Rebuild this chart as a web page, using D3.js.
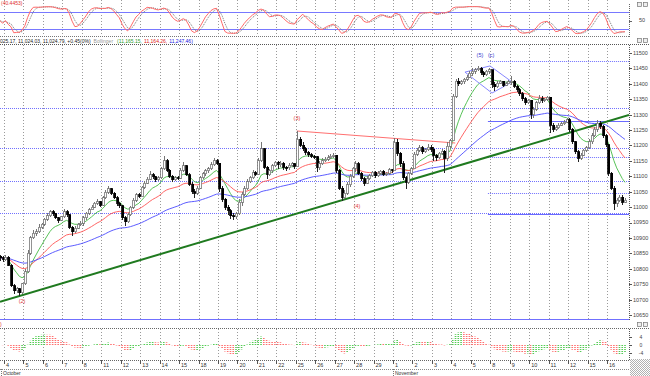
<!DOCTYPE html>
<html><head><meta charset="utf-8">
<script src="https://cdn.jsdelivr.net/npm/d3@7"></script>
<style>body{margin:0;background:#fff}svg{display:block;font-family:Arial,"Liberation Sans",sans-serif}</style>
</head><body><svg id="c" width="650" height="376"></svg>
<script>
// ---------------- DATA ----------------
const dayLabels = ["4","5","6","7","8","11","12","13","14","15","18","19","20","21","22","25","26","27","28","29","1","2","3","4","5","8","9","10","11","12","15","16"];
const monthLabels = ["October","November"];
const monthStartDays = [0, 20];
const barsPerDay = 7;
const firstBarSlot = 5;
const firstOpen = 10841;
const closes = [
10835,10829,
10838,10812,10745,10728,10735,10722,10751,
10790,10850,10900,10915,10920,10935,10944,
10960,10972,10985,10978,10965,10958,10968,
10985,10975,10935,10920,10932,10945,10948,
10965,10980,10992,11000,11012,11018,11006,
11030,11048,11060,11045,11030,11012,11005,
10965,10952,10975,11000,11022,11040,11035,
11065,11078,11090,11105,11098,11088,11096,
11125,11150,11120,11100,11088,11095,11094,
11120,11135,11105,11075,11050,11045,11062,
11095,11108,11118,11125,11138,11150,11143,
11060,11025,11000,10988,10972,10968,10978,
11015,11042,11060,11082,11095,11112,11107,
11150,11190,11130,11105,11118,11135,11146,
11138,11142,11130,11128,11136,11140,11132,
11220,11200,11190,11178,11170,11165,11164,
11128,11140,11150,11155,11160,11165,11169,
11120,11062,11030,11045,11072,11100,11126,
11140,11110,11092,11078,11092,11102,11113,
11102,11110,11116,11106,11110,11122,11118,
11210,11175,11140,11095,11080,11110,11124,
11172,11185,11192,11180,11186,11195,11188,
11168,11160,11175,11182,11158,11198,11215,
11360,11408,11400,11406,11415,11422,11434,
11440,11446,11451,11436,11430,11440,11445,
11398,11390,11402,11408,11396,11400,11406,
11408,11392,11380,11368,11352,11338,11346,
11300,11318,11338,11352,11346,11350,11357,
11265,11252,11258,11266,11270,11276,11283,
11252,11212,11180,11158,11168,11184,11193,
11212,11232,11252,11272,11262,11232,11202,
11110,11062,11012,11022,11032,11016,11023];
const highs = [
10845,10840,
10845,10842,10815,10750,10740,10738,10755,
10800,10860,10905,10925,10930,10945,10950,
10965,10980,10992,10990,10980,10968,10972,
10995,10990,10978,10940,10940,10950,10955,
10972,10985,10998,11008,11018,11025,11020,
11035,11055,11070,11062,11048,11035,11015,
11008,10970,10980,11005,11028,11045,11045,
11070,11085,11098,11118,11110,11100,11100,
11130,11165,11155,11125,11105,11100,11100,
11128,11145,11138,11110,11080,11058,11068,
11100,11115,11125,11130,11145,11158,11155,
11143,11070,11030,11008,10995,10980,10985,
11025,11050,11068,11090,11100,11120,11118,
11158,11210,11192,11135,11125,11140,11150,
11150,11150,11145,11135,11142,11146,11142,
11247,11228,11210,11195,11182,11175,11170,
11165,11150,11158,11162,11168,11172,11175,
11170,11125,11068,11055,11080,11108,11130,
11148,11145,11115,11098,11100,11108,11118,
11118,11118,11122,11120,11115,11128,11125,
11225,11220,11180,11148,11100,11115,11130,
11178,11192,11200,11198,11192,11205,11200,
11195,11172,11180,11188,11185,11210,11222,
11368,11415,11418,11412,11420,11428,11440,
11450,11452,11458,11455,11442,11446,11452,
11440,11405,11410,11412,11410,11405,11412,
11425,11412,11395,11385,11372,11356,11352,
11345,11325,11345,11365,11360,11355,11362,
11357,11272,11265,11272,11276,11282,11290,
11290,11258,11216,11185,11175,11190,11198,
11220,11240,11260,11283,11280,11268,11238,
11205,11115,11068,11030,11040,11038,11030];
const lows = [
10825,10822,
10825,10808,10740,10718,10722,10712,10718,
10748,10785,10845,10895,10905,10915,10930,
10938,10955,10968,10972,10960,10950,10955,
10965,10968,10930,10905,10915,10928,10938,
10940,10958,10975,10990,10998,11008,11000,
11005,11025,11042,11040,11025,11005,10998,
10958,10940,10948,10970,10995,11018,11028,
11035,11060,11075,11088,11090,11082,11085,
11090,11120,11115,11095,11080,11085,11088,
11090,11115,11100,11068,11042,11030,11040,
11060,11090,11102,11112,11120,11135,11138,
11050,11015,10990,10975,10962,10958,10962,
10975,11005,11035,11055,11078,11090,11100,
11105,11145,11125,11092,11100,11112,11130,
11125,11130,11122,11118,11122,11130,11125,
11132,11195,11182,11170,11162,11158,11155,
11115,11120,11138,11145,11150,11155,11160,
11112,11055,11020,11025,11040,11065,11095,
11115,11105,11085,11068,11075,11088,11098,
11095,11098,11105,11100,11102,11105,11110,
11118,11165,11130,11088,11060,11075,11105,
11125,11165,11180,11172,11175,11182,11180,
11150,11150,11155,11168,11110,11150,11190,
11215,11355,11392,11395,11400,11410,11418,
11425,11432,11440,11430,11422,11426,11432,
11385,11378,11388,11398,11390,11392,11398,
11395,11386,11375,11362,11345,11330,11335,
11285,11290,11312,11335,11338,11340,11345,
11240,11244,11248,11255,11262,11268,11274,
11245,11205,11172,11146,11152,11165,11180,
11190,11205,11228,11245,11255,11225,11195,
11100,11055,10991,11002,11015,11008,11012];
const priceTicks = [10650,10700,10750,10800,10850,10900,10950,11000,11050,11100,11150,11200,11250,11300,11350,11400,11450,11500];
const stochTicks = [50];
const stochBands = [80, 20];
const maPeriods = [10, 25, 60];           // green, red, blue
const macdTickLabels = ["4","0","-4"];
// drawn objects in (day, price) units
const trendLow = [{d:0.8, p:10712},{d:17.3, p:11021}];
const resistance = [{d:15.05, p:11247},{d:23.2, p:11208}];
const wedge = [{d:23.70,p:11438},{d:24.99,p:11458},{d:26.12,p:11406},{d:25.09,p:11370}];
const fullLevels = [11322, 11192, 11085, 10981];
const partialStart = 24.88;
const partialDotted = [11474, 11163, 11046];
const partialSolid = [11279, 10978];
const waveLabels = [
 {t:"(2)", d:0.93, p:10695, c:"#e23b3b"},
 {t:"(3)", d:15.06, p:11289, c:"#e23b3b"},
 {t:"(4)", d:18.15, p:11004, c:"#e23b3b"},
 {t:"(5)", d:24.47, p:11494, c:"#3a3ad0"},
 {t:"(c)", d:25.05, p:11494, c:"#3a3ad0"}];
const infoMain = "025.17, 11,024.03, 11,024.79, +0.45(0%)";
const infoInd = "Bollinger";
const infoVals = ["(11,165.15,", "11,164.26,", "11,247.46)"];
const stochLabel = "(40.4453)";

// ---------------- LAYOUT ----------------
const svg = d3.select("#c");
const W = 650, H = 376, PR = 629;
svg.append("rect").attr("width",W).attr("height",H).attr("fill","#fff");

const x = d3.scaleLinear().domain([0, 32]).range([4, 4 + 19.45*32]);
const y = d3.scaleLinear().domain([10650, 11500]).range([315, 53]);
const ys = d3.scaleLinear().domain([0, 100]).range([35, 6]);

const bars = closes.map((c,i)=>{
  const k = i + firstBarSlot;
  const day = Math.floor(k / barsPerDay) - 1;
  const slot = k % barsPerDay;
  const o = i === 0 ? firstOpen : closes[i-1];
  return {t: day + (slot + 0.5)/barsPerDay, o, c,
          h: Math.max(highs[i], o, c), l: Math.min(lows[i], o, c)};
});

function ema(arr, n){ const a = 2/(n+1); let e = arr[0]; return arr.map(v => (e = e + a*(v-e))); }
const mas = maPeriods.map(n => ema(closes, n));
const kRaw = bars.map((b,i)=>{
  const s = bars.slice(Math.max(0,i-13), i+1);
  const hh = d3.max(s, d=>d.h), ll = d3.min(s, d=>d.l);
  return hh===ll ? 50 : (b.c-ll)/(hh-ll)*100;
});
const sma = (arr,n)=>arr.map((v,i)=>d3.mean(arr.slice(Math.max(0,i-n+1), i+1)));
const kSlow = sma(kRaw,3), dSlow = sma(kSlow,3);
const e12 = ema(closes,12), e26 = ema(closes,26);
const macd = e12.map((v,i)=>v-e26[i]);
const sig = ema(macd, 9);
const hist = macd.map((v,i)=>v-sig[i]);
const hm = d3.max(hist, v=>Math.abs(v));
const ym = d3.scaleLinear().domain([-hm, hm]).range([358, 332]);

const defs = svg.append("defs");
defs.append("clipPath").attr("id","cm").append("rect").attr("x",0).attr("y",45).attr("width",PR).attr("height",274);
defs.append("clipPath").attr("id","cs").append("rect").attr("x",0).attr("y",0).attr("width",PR).attr("height",36);
defs.append("clipPath").attr("id","cd").append("rect").attr("x",0).attr("y",329).attr("width",PR).attr("height",30);
const pat = defs.append("pattern").attr("id","chk").attr("width",2).attr("height",2).attr("patternUnits","userSpaceOnUse");
pat.append("rect").attr("width",1).attr("height",1).attr("fill","#b0b0b0");
pat.append("rect").attr("x",1).attr("y",1).attr("width",1).attr("height",1).attr("fill","#b0b0b0");

const grid = "#9a9a9a";
const days = d3.range(dayLabels.length);
[[0,36],[45,319],[329,359]].forEach(([a,b])=>{
  svg.append("g").selectAll("line").data(days).join("line")
    .attr("x1",d=>Math.round(x(d))+0.5).attr("x2",d=>Math.round(x(d))+0.5)
    .attr("y1",a).attr("y2",b).attr("stroke",grid).attr("stroke-dasharray","1,2");
});

// ---------- stochastic panel ----------
const gs = svg.append("g").attr("clip-path","url(#cs)");
gs.selectAll("line.band").data(stochBands).join("line")
  .attr("x1",0).attr("x2",PR).attr("y1",d=>Math.round(ys(d))+0.5).attr("y2",d=>Math.round(ys(d))+0.5)
  .attr("stroke","#7878ff").attr("stroke-width",1);
gs.append("path").datum(dSlow).attr("fill","none").attr("stroke","#777").attr("stroke-dasharray","1,1")
  .attr("d", d3.line().x((v,i)=>x(bars[i].t)).y(v=>ys(v)));
gs.append("path").datum(kSlow).attr("fill","none").attr("stroke","#ff6a6a").attr("stroke-width",1)
  .attr("d", d3.line().x((v,i)=>x(bars[i].t)).y(v=>ys(v)));
svg.append("text").attr("x",1).attr("y",5).attr("font-size",5).attr("fill","#e03030").text(stochLabel);
svg.append("line").attr("x1",0).attr("x2",PR).attr("y1",36.5).attr("y2",36.5).attr("stroke","#777").attr("stroke-dasharray","1,1");
svg.append("line").attr("x1",PR+0.5).attr("x2",PR+0.5).attr("y1",4).attr("y2",37).attr("stroke","#666").attr("stroke-dasharray","1,1");
stochTicks.forEach(v=>{
  svg.append("line").attr("x1",PR).attr("x2",PR+3).attr("y1",Math.round(ys(v))+0.5).attr("y2",Math.round(ys(v))+0.5).attr("stroke","#666");
  svg.append("text").attr("x",PR+10).attr("y",ys(v)).attr("dy","0.35em").attr("font-size",5.5).attr("fill","#444").text(v);
});

// ---------- info line ----------
const info = svg.append("text").attr("x",0).attr("y",42.5).attr("font-size",5).attr("fill","#222");
info.append("tspan").text(infoMain);
info.append("tspan").attr("dx",3).attr("fill","#999").text(infoInd);
const ic = ["#2a9a2a","#e02020","#2020e0"];
infoVals.forEach((t,i)=>info.append("tspan").attr("dx",i===0?4:2).attr("fill",ic[i]).text(t));

// ---------- main panel ----------
svg.append("line").attr("x1",0).attr("x2",W).attr("y1",44.5).attr("y2",44.5).attr("stroke","#555").attr("stroke-dasharray","1,1");
const gm = svg.append("g").attr("clip-path","url(#cm)");
gm.selectAll("line.lv").data(fullLevels).join("line")
  .attr("x1",0).attr("x2",PR).attr("y1",d=>Math.round(y(d))+0.5).attr("y2",d=>Math.round(y(d))+0.5)
  .attr("stroke","#7070ff").attr("stroke-dasharray","1,1");
gm.selectAll("line.pd").data(partialDotted).join("line")
  .attr("x1",x(partialStart)).attr("x2",PR).attr("y1",d=>Math.round(y(d))+0.5).attr("y2",d=>Math.round(y(d))+0.5)
  .attr("stroke","#7070ff").attr("stroke-dasharray","1,1");
gm.selectAll("line.ps").data(partialSolid).join("line")
  .attr("x1",x(partialStart)).attr("x2",PR).attr("y1",d=>Math.round(y(d))+0.5).attr("y2",d=>Math.round(y(d))+0.5)
  .attr("stroke","#6a6aff");

const maColors = ["#44bb44","#ff5555","#4b4bff"];
mas.forEach((arr,j)=>{
  gm.append("path").datum(arr).attr("fill","none").attr("stroke",maColors[j]).attr("stroke-width",0.9)
    .attr("d", d3.line().x((v,i)=>x(bars[i].t)).y(v=>y(v)));
});

const tl = d3.scaleLinear().domain([trendLow[0].d, trendLow[1].d]).range([trendLow[0].p, trendLow[1].p]);
const tx0 = x.invert(0), tx1 = x.invert(PR);
gm.append("line").attr("x1",x(tx0)).attr("y1",y(tl(tx0))).attr("x2",x(tx1)).attr("y2",y(tl(tx1)))
  .attr("stroke","#1f7a1f").attr("stroke-width",2);
gm.append("line").attr("x1",x(resistance[0].d)).attr("y1",y(resistance[0].p))
  .attr("x2",x(resistance[1].d)).attr("y2",y(resistance[1].p)).attr("stroke","#ff7070").attr("stroke-width",1);
gm.append("path").datum(wedge).attr("fill","none").attr("stroke","#8888ff")
  .attr("d", d3.line().x(d=>x(d.d)).y(d=>y(d.p)).curve(d3.curveLinearClosed));

const gc = gm.append("g").attr("shape-rendering","crispEdges");
gc.selectAll("line.w").data(bars).join("line")
  .attr("x1",d=>Math.round(x(d.t))+0.5).attr("x2",d=>Math.round(x(d.t))+0.5)
  .attr("y1",d=>y(d.h)).attr("y2",d=>y(d.l)).attr("stroke",d=>d.c>=d.o?"#777":"#222");
gc.selectAll("rect").data(bars).join("rect")
  .attr("x",d=>Math.round(x(d.t))-0.5).attr("width",2)
  .attr("y",d=>y(Math.max(d.o,d.c))).attr("height",d=>Math.max(1,Math.abs(y(d.o)-y(d.c))))
  .attr("fill",d=>d.c>=d.o?"#fff":"#000").attr("stroke",d=>d.c>=d.o?"#777":"#000").attr("stroke-width",0.8);

gm.selectAll("text").data(waveLabels).join("text")
  .attr("x",d=>x(d.d)).attr("y",d=>y(d.p)).attr("dy","0.35em").attr("text-anchor","middle")
  .attr("font-size",5.5).attr("fill",d=>d.c).text(d=>d.t);

svg.append("line").attr("x1",0).attr("x2",PR).attr("y1",319.5).attr("y2",319.5).attr("stroke","#7070ff");
svg.append("line").attr("x1",PR+0.5).attr("x2",PR+0.5).attr("y1",45).attr("y2",320).attr("stroke","#555").attr("stroke-dasharray","1,1");
const ga = svg.append("g");
ga.selectAll("line").data(priceTicks).join("line")
  .attr("x1",PR).attr("x2",PR+3).attr("y1",d=>Math.round(y(d))+0.5).attr("y2",d=>Math.round(y(d))+0.5).attr("stroke","#555");
ga.selectAll("text").data(priceTicks).join("text")
  .attr("x",PR+4).attr("y",d=>y(d)).attr("dy","0.35em").attr("font-size",5.5).attr("fill","#444").text(d=>d);

// ---------- MACD panel ----------
svg.append("line").attr("x1",0).attr("x2",W).attr("y1",328.5).attr("y2",328.5).attr("stroke","#666").attr("stroke-dasharray","1,1");
svg.append("text").attr("x",0).attr("y",326).attr("font-size",5).attr("fill","#e03030").text(")");
const gd = svg.append("g").attr("clip-path","url(#cd)");
gd.selectAll("line").data(hist).join("line")
  .attr("x1",(v,i)=>x(bars[i].t)).attr("x2",(v,i)=>x(bars[i].t))
  .attr("y1",ym(0)).attr("y2",v=>ym(v))
  .attr("stroke",(v,i)=> i>0 && v<hist[i-1] ? "#ff7070" : "#55cc55")
  .attr("stroke-width",1.6).attr("stroke-dasharray","1,1");
svg.append("line").attr("x1",PR+0.5).attr("x2",PR+0.5).attr("y1",329).attr("y2",360).attr("stroke","#555").attr("stroke-dasharray","1,1");
const mt = [hm*0.6, 0, -hm*0.6];
mt.forEach((v,i)=>{
  svg.append("line").attr("x1",PR).attr("x2",PR+3).attr("y1",Math.round(ym(v))+0.5).attr("y2",Math.round(ym(v))+0.5).attr("stroke","#555");
  svg.append("text").attr("x",PR+12).attr("y",ym(v)).attr("dy","0.35em").attr("font-size",5).attr("text-anchor","middle").attr("fill","#444").text(macdTickLabels[i]);
});

// ---------- x axis ----------
svg.append("line").attr("x1",0).attr("x2",PR).attr("y1",360.5).attr("y2",360.5).attr("stroke","#666").attr("stroke-dasharray","1,1");
svg.append("line").attr("x1",0).attr("x2",PR).attr("y1",369.5).attr("y2",369.5).attr("stroke","#888").attr("stroke-dasharray","1,1");
const gx = svg.append("g");
gx.selectAll("line").data(days).join("line")
  .attr("x1",d=>Math.round(x(d))+0.5).attr("x2",d=>Math.round(x(d))+0.5).attr("y1",360).attr("y2",364).attr("stroke","#555");
gx.selectAll("text").data(days).join("text")
  .attr("x",d=>x(d)+2).attr("y",367).attr("font-size",5.5).attr("fill","#333").text(d=>dayLabels[d]);
monthLabels.forEach((m,i)=>{
  const mx = Math.max(0, x(monthStartDays[i]) - (i===0?3:0));
  svg.append("line").attr("x1",Math.round(mx)+0.5).attr("x2",Math.round(mx)+0.5).attr("y1",369).attr("y2",376).attr("stroke","#777").attr("stroke-dasharray","1,1");
  svg.append("text").attr("x",mx+2).attr("y",375).attr("font-size",5).attr("fill","#333").text(m);
});
svg.append("rect").attr("x",PR+1).attr("y",359).attr("width",W-PR-1).attr("height",H-359).attr("fill","url(#chk)");

[[2],[38],[322]].forEach(([yy])=>{
  [637,643].forEach(xx=>svg.append("rect").attr("x",xx+0.5).attr("y",yy+0.5).attr("width",4).attr("height",4)
    .attr("fill","#eee").attr("stroke","#777").attr("stroke-width",0.7));
});
</script></body></html>
